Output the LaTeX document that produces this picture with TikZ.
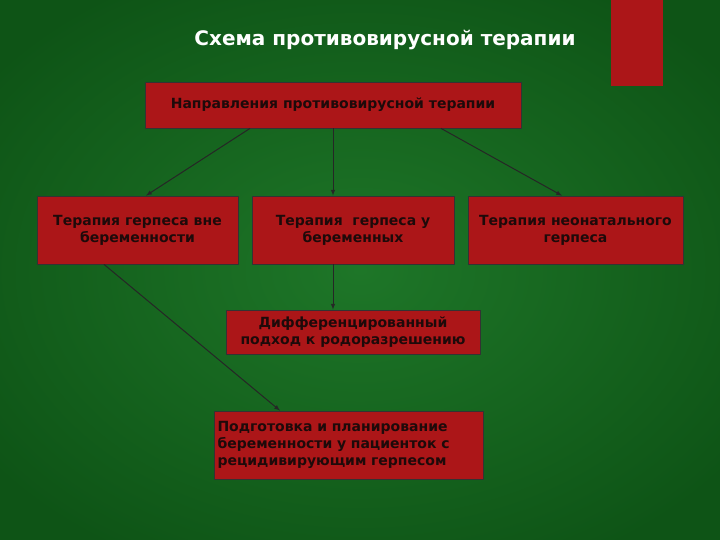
\documentclass[tikz,border=0pt]{standalone}
\usepackage{fontspec}
\setmainfont{DejaVu Sans}
\definecolor{bg}{RGB}{30,118,40}
\definecolor{bgd}{RGB}{14,84,22}
\definecolor{boxred}{RGB}{172,22,24}
\definecolor{txt}{RGB}{30,10,10}
\begin{document}
\begin{tikzpicture}[x=1pt,y=-1pt,
  box/.style={draw=black!80,fill=boxred,line width=0.8pt,inner sep=2pt,text=txt,font=\bfseries\fontsize{14}{17}\selectfont,align=center},
  arr/.style={-latex,line width=1pt,black!85}]
\useasboundingbox (0,0) rectangle (720,540);
\fill[bgd] (0,0) rectangle (720,540);
\shade[inner color=bg,outer color=bgd] (-100,-60) rectangle (820,600);
\fill[boxred] (611,0) rectangle (663,86);
\node[font=\bfseries\fontsize{20}{24}\selectfont,text=white] (title) at (385,40) {Схема противовирусной терапии};
\node[box,minimum width=376,minimum height=46] (top) at (333,105) {Направления противовирусной терапии};
\node[box,minimum width=201,minimum height=68] (l) at (137.5,230) {Терапия герпеса вне\\беременности};
\node[box,minimum width=202,minimum height=68] (m) at (353,230) {Терапия \ герпеса у\\беременных};
\node[box,minimum width=215,minimum height=68] (r) at (575.5,230) {Терапия неонатального\\герпеса};
\node[box,minimum width=254,minimum height=44] (d) at (353,332) {Дифференцированный\\подход к родоразрешению};
\node[box,minimum width=269,minimum height=68,align=left,text width=262] (p) at (348.5,445) {Подготовка и планирование\\беременности у пациенток с\\рецидивирующим герпесом};
\draw[arr] (top.south -| 250,0) -- (l.north -| 146,0);
\draw[arr] (top.south -| 333,0) -- (m.north -| 333,0);
\draw[arr] (top.south -| 441,0) -- (r.north -| 562,0);
\draw[arr] (m.south -| 333,0) -- (d.north -| 333,0);
\draw[arr] (l.south -| 104,0) -- (p.north -| 280,0);
\end{tikzpicture}
\end{document}
